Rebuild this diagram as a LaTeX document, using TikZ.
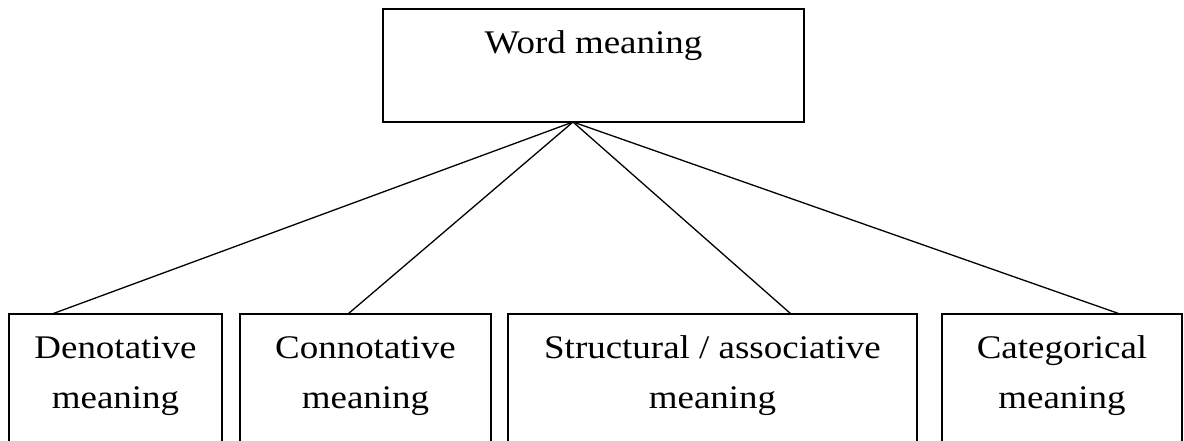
\documentclass[tikz,border=0pt]{standalone}
\usepackage{fontspec}
\setmainfont[FakeStretch=1.12]{Liberation Serif}
\begin{document}
\begin{tikzpicture}[x=1pt,y=-1pt,
  boxline/.style={draw=black,line width=1.4pt},
  lbl/.style={inner sep=0pt,anchor=base,font=\fontsize{33}{50}\selectfont},
  conn/.style={draw=black,line width=1.3pt}]
\useasboundingbox (0,0) rectangle (1184,441);
% top box
\draw[boxline,line width=1.7pt] (383,9) rectangle (804,122);
\node[lbl] (top) at (593.5,54) {Word meaning};
\coordinate (apex) at (573,122);
% bottom open boxes
\draw[boxline] (9,441) -- (9,314) -- (222,314) -- (222,441);
\draw[boxline] (240,441) -- (240,314) -- (491,314) -- (491,441);
\draw[boxline] (508,441) -- (508,314) -- (917,314) -- (917,441);
\draw[boxline] (942,441) -- (942,314) -- (1182,314) -- (1182,441);
\node[lbl] (d1) at (115.5,358) {Denotative};
\node[lbl] (d2) at (115.5,408) {meaning};
\node[lbl] (c1) at (365.5,358) {Connotative};
\node[lbl] (c2) at (365.5,408) {meaning};
\node[lbl] (s1) at (712.5,358) {Structural / associative};
\node[lbl] (s2) at (712.5,408) {meaning};
\node[lbl] (k1) at (1062,358) {Categorical};
\node[lbl] (k2) at (1062,408) {meaning};
\coordinate (e1) at (52,314);
\coordinate (e2) at (348,314);
\coordinate (e3) at (791,314);
\coordinate (e4) at (1120,314);
\draw[conn] (apex) -- (e1);
\draw[conn] (apex) -- (e2);
\draw[conn] (apex) -- (e3);
\draw[conn] (apex) -- (e4);
\end{tikzpicture}
\end{document}
